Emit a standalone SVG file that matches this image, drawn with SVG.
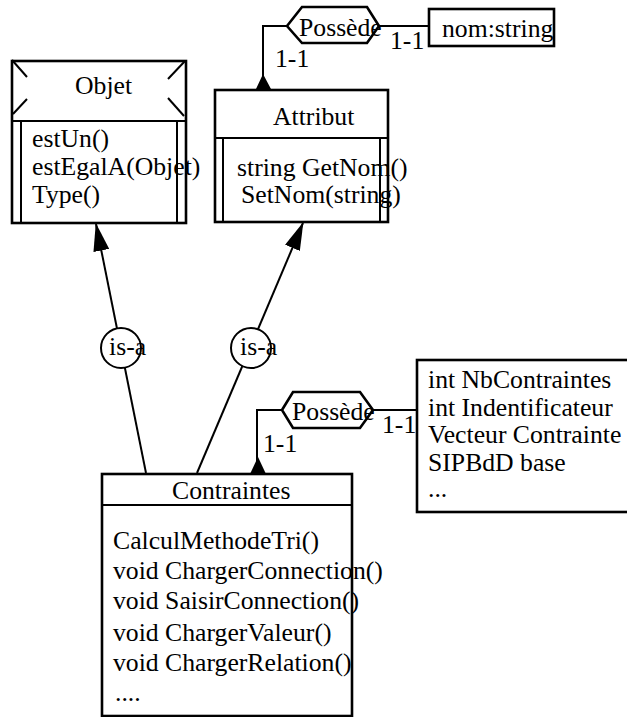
<svg xmlns="http://www.w3.org/2000/svg" width="627" height="717" viewBox="0 0 627 717">
<style>
text{font-family:"Liberation Serif","Times New Roman",serif;font-size:25.7px;fill:#000}
.box{fill:#fff;stroke:#000;stroke-width:2.6}
.ln{fill:none;stroke:#000;stroke-width:2}
.tri{fill:#000;stroke:none}
.circ{fill:#fff;stroke:#000;stroke-width:2}
</style>
<defs>
<marker id="arr" markerUnits="userSpaceOnUse" viewBox="0 0 28 16" refX="27" refY="8" markerWidth="28" markerHeight="16" orient="auto">
<path d="M0,0 L28,8 L0,16 z" fill="#000"/>
</marker>
</defs>
<g id="connectors">
<line class="ln" x1="146" y1="473" x2="96" y2="224" marker-end="url(#arr)"/>
<line class="ln" x1="197" y1="473" x2="303" y2="223" marker-end="url(#arr)"/>
<polyline class="ln" points="287,26 263,26 263,88"/>
<polygon class="tri" points="263,74 256,89 271,89"/>
<line class="ln" x1="379" y1="26" x2="429" y2="26"/>
<polyline class="ln" points="282,410 257,410 257,472"/>
<polygon class="tri" points="258,457 250,474 266,474"/>
<line class="ln" x1="373" y1="410" x2="417" y2="410"/>
<text x="275" y="67">1-1</text>
<text x="390" y="49">1-1</text>
<text x="263" y="452">1-1</text>
<text x="382" y="433">1-1</text>
</g>
<g id="isa1">
<circle class="circ" cx="121" cy="348" r="20"/>
<text x="109" y="355">is-a</text>
</g>
<g id="isa2">
<circle class="circ" cx="251" cy="348" r="20"/>
<text x="240" y="355">is-a</text>
</g>
<g id="possede1">
<polygon class="box" stroke-width="2" points="287,26 302,7 367,7 379,26 367,43 302,43"/>
<text x="299" y="36">Possède</text>
</g>
<g id="possede2">
<polygon class="box" stroke-width="2" points="282,410 293,392 360,392 373,410 360,428 293,428"/>
<text x="292" y="420">Possède</text>
</g>
<g id="nomstring">
<rect class="box" x="429" y="9" width="125" height="37"/>
<text x="442" y="37">nom:string</text>
</g>
<g id="objet">
<rect class="box" x="12" y="61" width="174" height="162"/>
<line class="ln" x1="12" y1="121" x2="186" y2="121" stroke-width="2.6"/>
<line class="ln" x1="21" y1="121" x2="21" y2="223"/>
<line class="ln" x1="177" y1="121" x2="177" y2="223"/>
<line class="ln" x1="12" y1="60" x2="27" y2="77"/>
<line class="ln" x1="13" y1="114" x2="27" y2="99"/>
<line class="ln" x1="185" y1="61" x2="168" y2="79"/>
<line class="ln" x1="168" y1="98" x2="184" y2="116"/>
<text x="75" y="94">Objet</text>
<text x="32" y="147">estUn()</text>
<text x="32" y="175">estEgalA(Objet)</text>
<text x="32" y="203">Type()</text>
</g>
<g id="attribut">
<rect class="box" x="215" y="90" width="173" height="132"/>
<line class="ln" x1="215" y1="138" x2="388" y2="138" stroke-width="2.6"/>
<line class="ln" x1="223" y1="138" x2="223" y2="222"/>
<line class="ln" x1="380" y1="138" x2="380" y2="222"/>
<text x="273" y="125">Attribut</text>
<text x="237" y="176">string GetNom()</text>
<text x="241" y="203">SetNom(string)</text>
</g>
<g id="contraintes">
<rect class="box" x="102" y="474" width="250" height="242"/>
<line class="ln" x1="102" y1="505" x2="352" y2="505" stroke-width="2.6"/>
<text x="172" y="499">Contraintes</text>
<text x="113" y="549">CalculMethodeTri()</text>
<text x="113" y="579">void ChargerConnection()</text>
<text x="113" y="609">void SaisirConnection()</text>
<text x="113" y="641">void ChargerValeur()</text>
<text x="113" y="671">void ChargerRelation()</text>
<text x="115" y="701">....</text>
</g>
<g id="contraintes-attrs">
<rect class="box" x="417" y="360" width="230" height="152"/>
<text x="428" y="388">int NbContraintes</text>
<text x="428" y="416">int Indentificateur</text>
<text x="428" y="443">Vecteur Contrainte</text>
<text x="428" y="471">SIPBdD base</text>
<text x="428" y="497">...</text>
</g>
</svg>
